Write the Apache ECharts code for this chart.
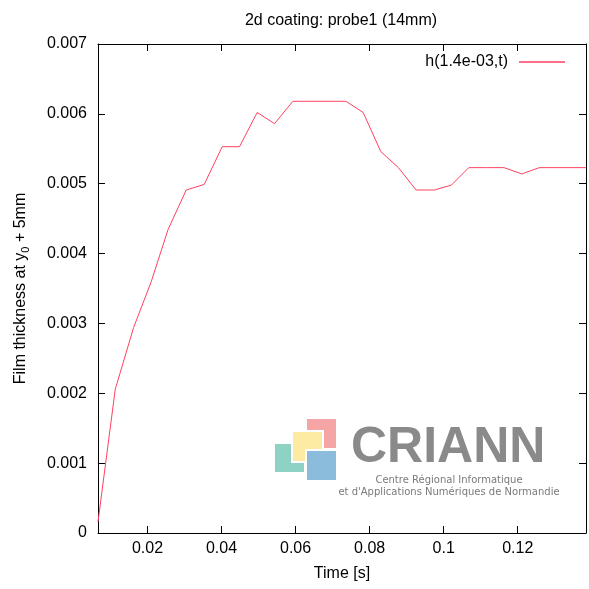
<!DOCTYPE html>
<html>
<head>
<meta charset="utf-8">
<script src="https://cdn.jsdelivr.net/npm/echarts@6/dist/echarts.min.js"></script>
<style>html,body{margin:0;padding:0;background:#fff}#c{width:589px;height:589px}</style>
</head>
<body>
<div id="c"></div>
<script>
var titleText = '2d coating: probe1 (14mm)';
var seriesName = 'h(1.4e-03,t)';
var xName = 'Time [s]';
var times = [0.00664, 0.01131, 0.01625, 0.02103, 0.02553, 0.03047, 0.03533, 0.04019, 0.04486, 0.04964,
  0.05431, 0.05927, 0.06394, 0.06880, 0.07358, 0.07825, 0.08302, 0.08777, 0.09255, 0.09749,
  0.10208, 0.10677, 0.11158, 0.11630, 0.12108, 0.12583, 0.13061, 0.13547, 0.13844];
var thickness = [0.00016, 0.00206, 0.00294, 0.00360, 0.00434, 0.00491, 0.00499, 0.00553, 0.00553, 0.00602,
  0.00586, 0.00618, 0.00618, 0.00618, 0.00618, 0.00602, 0.00546, 0.00523, 0.00491, 0.00491,
  0.00498, 0.00523, 0.00523, 0.00523, 0.00514, 0.00523, 0.00523, 0.00523, 0.00523];
var xTicks = [0.02, 0.04, 0.06, 0.08, 0.1, 0.12];
var yTicks = [0, 0.001, 0.002, 0.003, 0.004, 0.005, 0.006, 0.007];
var xMin = 0.00664, xMax = 0.13844;

var FONT = '"Liberation Sans", Arial, sans-serif';
var FS = 16;
var data = times.map(function (t, i) { return [t, thickness[i]]; });
var axisLineStyle = { show: true, onZero: false, lineStyle: { color: '#000', width: 1 } };
function fmtX(v) { return String(parseFloat(v.toFixed(4))); }
function fmtY(v) { return v === 0 ? '0' : v.toFixed(3); }

var chart = echarts.init(document.getElementById('c'), null, { renderer: 'canvas' });
chart.setOption({
  animation: false,
  backgroundColor: '#fff',
  title: {
    text: titleText, left: 336, top: 8, textAlign: 'center',
    textStyle: { fontFamily: FONT, fontSize: FS, fontWeight: 'normal', color: '#000' }
  },
  legend: {
    right: 19, top: 49, align: 'right', itemWidth: 46, itemHeight: 1.5, icon: 'rect',
    data: [seriesName],
    textStyle: { fontFamily: FONT, fontSize: FS, color: '#000', padding: [0, 6, 0, 0] }
  },
  grid: { left: 98, right: 3, top: 44, bottom: 56, containLabel: false },
  xAxis: [{
    type: 'value', position: 'bottom', min: xMin, max: xMax,
    name: xName, nameLocation: 'middle', nameGap: 33,
    nameTextStyle: { fontFamily: FONT, fontSize: FS, color: '#000' },
    axisLine: axisLineStyle,
    axisTick: { show: true, inside: true, length: 7, customValues: xTicks, lineStyle: { color: '#000' } },
    axisLabel: { customValues: xTicks, formatter: fmtX, margin: 8, fontFamily: FONT, fontSize: FS, color: '#000' },
    splitLine: { show: false }
  }, {
    type: 'value', position: 'top', min: xMin, max: xMax,
    axisLine: axisLineStyle,
    axisTick: { show: true, inside: true, length: 7, customValues: xTicks, lineStyle: { color: '#000' } },
    axisLabel: { show: false },
    splitLine: { show: false }
  }],
  yAxis: [{
    type: 'value', position: 'left', min: 0, max: 0.007, interval: 0.001,
    name: '{a|Film thickness at y}{s|0}{a| + 5mm}', nameLocation: 'middle', nameGap: 67, nameRotate: 90,
    nameTextStyle: {
      rich: {
        a: { fontFamily: FONT, fontSize: FS, color: '#000' },
        s: { fontFamily: FONT, fontSize: 11, color: '#000', padding: [9, 0, 0, 0] }
      }
    },
    axisLine: axisLineStyle,
    axisTick: { show: true, inside: true, length: 7, customValues: yTicks, lineStyle: { color: '#000' } },
    axisLabel: { customValues: yTicks, formatter: fmtY, margin: 11, fontFamily: FONT, fontSize: FS, color: '#000' },
    splitLine: { show: false }
  }, {
    type: 'value', position: 'right', min: 0, max: 0.007, interval: 0.001,
    axisLine: axisLineStyle,
    axisTick: { show: true, inside: true, length: 7, customValues: yTicks, lineStyle: { color: '#000' } },
    axisLabel: { show: false },
    splitLine: { show: false }
  }],
  graphic: [
    { type: 'rect', shape: { x: 306, y: 418, width: 31, height: 31 }, style: { fill: '#f5a5a5', stroke: '#fff', lineWidth: 2 }, z: 1 },
    { type: 'rect', shape: { x: 274, y: 443, width: 31, height: 30 }, style: { fill: '#8dd2c2', stroke: '#fff', lineWidth: 2 }, z: 1 },
    { type: 'rect', shape: { x: 292, y: 431, width: 31, height: 31 }, style: { fill: '#fdeba3', stroke: '#fff', lineWidth: 2 }, z: 1 },
    { type: 'rect', shape: { x: 306, y: 450, width: 31, height: 31 }, style: { fill: '#8bbcdb', stroke: '#fff', lineWidth: 2 }, z: 1 },
    { type: 'text', left: 351, top: 423, z: 1,
      style: { text: 'CRIANN', fontFamily: FONT, fontSize: 50, fontWeight: 'bold', fill: '#8a8a8a' } },
    { type: 'text', x: 449, y: 480, z: 1,
      style: { text: 'Centre Régional Informatique', fontFamily: '"DejaVu Sans", sans-serif', fontSize: 10, fill: '#7a7a7a', align: 'center', verticalAlign: 'middle' } },
    { type: 'text', x: 449, y: 492, z: 1,
      style: { text: "et d'Applications Numériques de Normandie", fontFamily: '"DejaVu Sans", sans-serif', fontSize: 10, fill: '#7a7a7a', align: 'center', verticalAlign: 'middle' } }
  ],
  series: [{
    name: seriesName, type: 'line', data: data, xAxisIndex: 0, yAxisIndex: 0,
    symbol: 'none', showSymbol: false, z: 5,
    lineStyle: { color: '#ff4060', width: 1 },
    itemStyle: { color: '#ff4060' }
  }]
});
</script>
</body>
</html>
